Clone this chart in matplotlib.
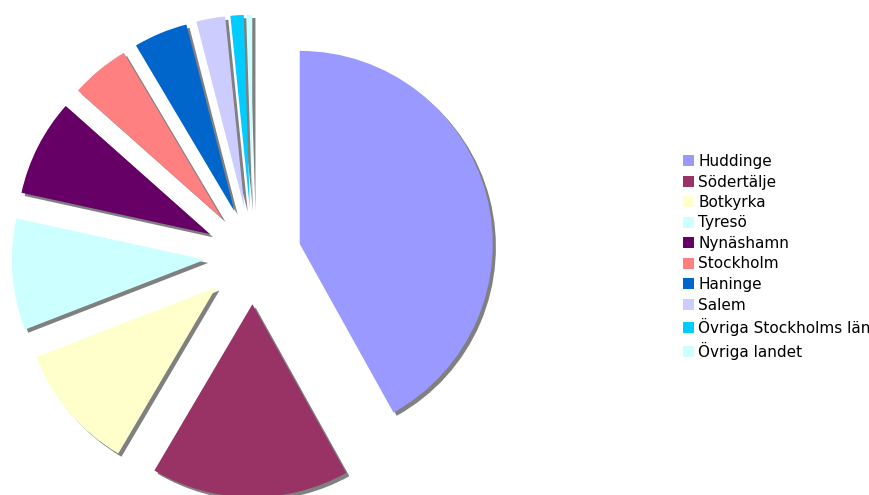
import matplotlib.pyplot as plt

# andel per kommun (procent)
kommuner = ["Huddinge", "Södertälje", "Botkyrka", "Tyresö", "Nynäshamn",
            "Stockholm", "Haninge", "Salem", "Övriga Stockholms län", "Övriga landet"]
andel = [41.8, 16.5, 10.6, 9.3, 8.1, 4.9, 4.5, 2.4, 1.1, 0.5]
farger = ["#9999FF", "#993366", "#FFFFCC", "#CCFFFF", "#660066",
          "#FF8080", "#0066CC", "#CCCCFF", "#00CCFF", "#CCFFFF"]

W, H = 869, 495
R = 193          # pie radius in px
cx, cy = 253, 256  # pie centre in px from top-left

fig = plt.figure(figsize=(W / 100, H / 100), dpi=100)
ax = fig.add_axes([0, 0, 1, 1])

wedges, _ = ax.pie(andel, colors=farger, startangle=90, counterclock=False,
                   explode=[0.25] * len(andel),
                   wedgeprops={"linewidth": 0},
                   shadow={"ox": 0.012, "oy": -0.012, "facecolor": "#808080",
                           "edgecolor": "#808080", "alpha": 1})

ax.set_aspect("auto")
ax.set_xlim(-cx / R, (W - cx) / R)
ax.set_ylim(-(H - cy) / R, cy / R)
ax.axis("off")

leg = ax.legend(wedges, kommuner, loc="upper left",
                bbox_to_anchor=(683 / W, 1 - 154 / H), bbox_transform=fig.transFigure,
                frameon=False, fontsize=11, handlelength=0.72, handleheight=0.72,
                handletextpad=0.28, labelspacing=0.36, borderpad=0, borderaxespad=0)

fig.savefig("out.png", dpi=100)
